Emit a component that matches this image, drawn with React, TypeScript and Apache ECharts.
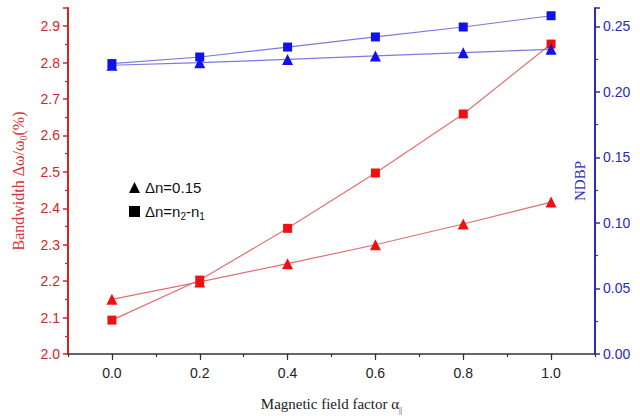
import React, { useEffect, useRef } from 'react';
import * as echarts from 'echarts';

const xValues = [0, 0.2, 0.4, 0.6, 0.8, 1.0];
const bwSquare = [2.093, 2.203, 2.345, 2.497, 2.659, 2.851];
const bwTriangle = [2.15, 2.198, 2.248, 2.3, 2.357, 2.417];
const ndbpSquare = [0.2216, 0.2266, 0.2342, 0.2419, 0.2495, 0.2581];
const ndbpTriangle = [0.2203, 0.2223, 0.2248, 0.2274, 0.2299, 0.2325];
const xMajorTicks = [0, 0.2, 0.4, 0.6, 0.8, 1.0];
const legendNames = ['Δn=0.15', 'Δn=n2-n1'];

const RED = '#ee1111';
const RED_AXIS = '#d42626';
const BLUE = '#1111ee';
const BLUE_AXIS = '#2b2bb8';
const SANS = 'Liberation Sans, Arial, sans-serif';
const SERIF = 'Liberation Serif, Times New Roman, serif';

const isMultiple = (v: number, step: number) => Math.abs(v / step - Math.round(v / step)) < 1e-6;

export default function App() {
  const ref = useRef<HTMLDivElement>(null);
  useEffect(() => {
    if (!ref.current) return;
    const chart = echarts.init(ref.current, null, { renderer: 'svg' });
    const pts = (ys: number[]) => xValues.map((x, i) => [x, ys[i]]);
    chart.setOption({
      animation: false,
      backgroundColor: '#ffffff',
      grid: { left: 68, right: 45, top: 8, bottom: 62, containLabel: false, outerBoundsMode: 'none' },
      legend: {
        orient: 'vertical',
        left: 124,
        top: 175,
        itemWidth: 11,
        itemHeight: 11,
        itemGap: 9,
        data: [
          { name: legendNames[0], icon: 'triangle' },
          { name: legendNames[1], icon: 'rect' },
        ],
        formatter: (name: string) =>
          name === legendNames[1]
            ? '{a|Δn=n}{s|2}{a|-n}{s|1}'
            : '{a|' + name + '}',
        textStyle: {
          rich: {
            a: { fontFamily: SANS, fontSize: 15, color: '#111', lineHeight: 20 },
            s: { fontFamily: SANS, fontSize: 10, color: '#111', lineHeight: 10, verticalAlign: 'bottom' },
          },
        },
      },
      xAxis: [
        {
          type: 'value',
          min: -0.1,
          max: 1.1,
          interval: 0.1,
          name: '{a|Magnetic field factor α}{s|||}',
          nameLocation: 'middle',
          nameGap: 40,
          nameTextStyle: {
            rich: {
              a: { fontFamily: SERIF, fontSize: 15, color: '#222', lineHeight: 20 },
              s: { fontFamily: SERIF, fontSize: 8, color: '#222', lineHeight: 10, verticalAlign: 'bottom' },
            },
          },
          axisLine: { show: true, onZero: false, lineStyle: { color: '#333', width: 1.5 } },
          axisTick: { show: true, inside: false, length: 3, lineStyle: { color: '#333', width: 1.2 } },
          axisLabel: {
            show: true,
            margin: 12,
            fontFamily: SANS,
            fontSize: 14,
            color: '#222',
            formatter: (v: number) => (isMultiple(v, 0.2) && v > -0.05 && v < 1.05 ? v.toFixed(1) : ''),
          },
          splitLine: { show: false },
        },
        {
          type: 'value',
          min: -0.1,
          max: 1.1,
          position: 'bottom',
          axisLine: { show: false },
          axisTick: { show: true, length: 6, customValues: xMajorTicks, lineStyle: { color: '#333', width: 1.2 } },
          axisLabel: { show: false },
          splitLine: { show: false },
        },
      ],
      yAxis: [
        {
          type: 'value',
          min: 2.0,
          max: 2.95,
          interval: 0.1,
          position: 'left',
          name: '{a|Bandwidth Δω/ω}{s|0}{a|(%)}',
          nameLocation: 'middle',
          nameRotate: 90,
          nameGap: 40,
          nameTextStyle: {
            rich: {
              a: { fontFamily: SERIF, fontSize: 16, color: '#d43535', lineHeight: 20 },
              s: { fontFamily: SERIF, fontSize: 10, color: '#d43535', lineHeight: 10, verticalAlign: 'bottom' },
            },
          },
          axisLine: { show: true, onZero: false, lineStyle: { color: RED_AXIS, width: 2 } },
          axisTick: { show: true, length: 5, lineStyle: { color: RED_AXIS, width: 1.5 } },
          minorTick: { show: true, splitNumber: 2, length: 3, lineStyle: { color: RED_AXIS, width: 1.2 } },
          axisLabel: {
            margin: 8,
            fontFamily: SANS,
            fontSize: 14,
            color: RED_AXIS,
            formatter: (v: number) => (isMultiple(v, 0.1) ? v.toFixed(1) : ''),
          },
          splitLine: { show: false },
          minorSplitLine: { show: false },
        },
        {
          type: 'value',
          min: 0,
          max: 0.264,
          interval: 0.05,
          position: 'right',
          name: 'NDBP',
          nameLocation: 'middle',
          nameRotate: 90,
          nameGap: -23,
          nameMoveOverlap: false,
          nameTextStyle: { fontFamily: SERIF, fontSize: 15, color: BLUE_AXIS },
          axisLine: { show: true, onZero: false, lineStyle: { color: BLUE_AXIS, width: 2 } },
          axisTick: { show: true, length: 5, lineStyle: { color: BLUE_AXIS, width: 1.5 } },
          minorTick: { show: true, splitNumber: 2, length: 3, lineStyle: { color: BLUE_AXIS, width: 1.2 } },
          axisLabel: {
            margin: 8,
            fontFamily: SANS,
            fontSize: 14,
            color: BLUE_AXIS,
            formatter: (v: number) => (isMultiple(v, 0.05) ? v.toFixed(2) : ''),
          },
          splitLine: { show: false },
          minorSplitLine: { show: false },
        },
      ],
      series: [
        {
          name: 'bwTri',
          type: 'line',
          yAxisIndex: 0,
          data: pts(bwTriangle),
          symbol: 'triangle',
          symbolSize: 11,
          itemStyle: { color: RED },
          lineStyle: { color: '#e07070', width: 1.2 },
        },
        {
          name: 'bwSq',
          type: 'line',
          yAxisIndex: 0,
          data: pts(bwSquare),
          symbol: 'rect',
          symbolSize: 9,
          itemStyle: { color: RED },
          lineStyle: { color: '#e07070', width: 1.2 },
        },
        {
          name: 'ndTri',
          type: 'line',
          yAxisIndex: 1,
          data: pts(ndbpTriangle),
          symbol: 'triangle',
          symbolSize: 11,
          itemStyle: { color: BLUE },
          lineStyle: { color: '#7a7ae0', width: 1.2 },
        },
        {
          name: 'ndSq',
          type: 'line',
          yAxisIndex: 1,
          data: pts(ndbpSquare),
          symbol: 'rect',
          symbolSize: 9,
          itemStyle: { color: BLUE },
          lineStyle: { color: '#7a7ae0', width: 1.2 },
        },
        {
          name: legendNames[0],
          type: 'line',
          data: [],
          symbol: 'triangle',
          itemStyle: { color: '#000' },
        },
        {
          name: legendNames[1],
          type: 'line',
          data: [],
          symbol: 'rect',
          itemStyle: { color: '#000' },
        },
      ],
    });
    return () => chart.dispose();
  }, []);
  return <div ref={ref} style={{ width: 640, height: 416, position: 'absolute', left: 0, top: 0 }} />;
}
